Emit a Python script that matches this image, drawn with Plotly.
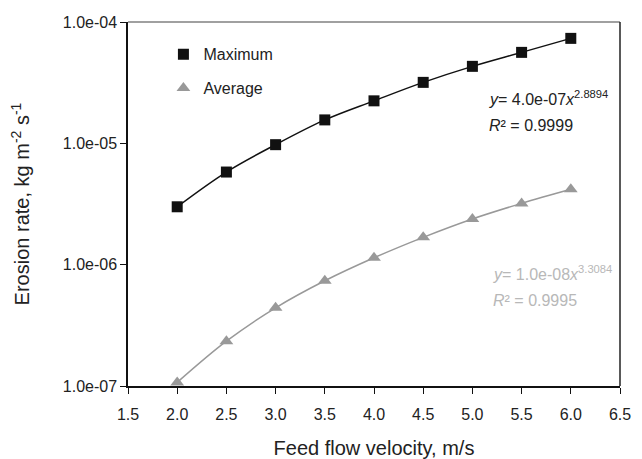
import plotly.graph_objects as go

velocity = [2.0, 2.5, 3.0, 3.5, 4.0, 4.5, 5.0, 5.5, 6.0]
maximum = [3.0e-6, 5.8e-6, 9.75e-6, 1.56e-5, 2.24e-5, 3.18e-5, 4.31e-5, 5.62e-5, 7.33e-5]
average = [1.07e-7, 2.34e-7, 4.41e-7, 7.37e-7, 1.14e-6, 1.68e-6, 2.38e-6, 3.2e-6, 4.18e-6]

y_tickvals = [1e-7, 1e-6, 1e-5, 1e-4]
y_ticktext = ["1.0e-07", "1.0e-06", "1.0e-05", "1.0e-04"]
x_tickvals = [1.5, 2.0, 2.5, 3.0, 3.5, 4.0, 4.5, 5.0, 5.5, 6.0, 6.5]
x_ticktext = ["1.5", "2.0", "2.5", "3.0", "3.5", "4.0", "4.5", "5.0", "5.5", "6.0", "6.5"]

BLACK = "#111111"
GRAY = "#999999"
FONT = "Liberation Sans, Arial, sans-serif"

fig = go.Figure()
fig.add_trace(go.Scatter(x=velocity, y=maximum, mode="lines", line=dict(color=BLACK, width=1.5, shape="spline"),
                         showlegend=False, hoverinfo="skip"))
fig.add_trace(go.Scatter(x=velocity, y=average, mode="lines", line=dict(color=GRAY, width=1.5, shape="spline"),
                         showlegend=False, hoverinfo="skip"))
fig.add_trace(go.Scatter(x=velocity, y=maximum, mode="markers", name="Maximum", legendgroup="a",
                         marker=dict(symbol="square", size=11, color=BLACK)))
fig.add_trace(go.Scatter(x=velocity, y=average, mode="markers", name="Average", legendgroup="b",
                         marker=dict(symbol="triangle-up", size=12, color=GRAY)))

fig.update_layout(
    width=634, height=451,
    margin=dict(l=120, r=22, t=14, b=73, autoexpand=False),
    paper_bgcolor="white", plot_bgcolor="white",
    font=dict(family=FONT, size=16, color="#222222"),
    legend=dict(x=0.072, y=0.958, xanchor="left", yanchor="top", bgcolor="rgba(0,0,0,0)",
                font=dict(size=16), tracegroupgap=10, traceorder="grouped"),
    xaxis=dict(range=[1.5, 6.5], tickvals=x_tickvals, ticktext=x_ticktext, automargin=False,
               showgrid=False, zeroline=False, showline=True, linecolor="#111111", linewidth=1.5,
               ticks="outside", ticklen=6, tickcolor="#111111", ticklabelstandoff=7,
               title=dict(text="Feed flow velocity, m/s", font=dict(size=20), standoff=20)),
    yaxis=dict(type="log", range=[-7, -4], tickvals=y_tickvals, ticktext=y_ticktext, automargin=False,
               showgrid=False, zeroline=False, showline=True, linecolor="#111111", linewidth=1.5,
               ticks="outside", ticklen=6, tickcolor="#111111", ticklabelstandoff=0,
               title=dict(text="Erosion rate, kg m<sup>-2</sup> s<sup>-1</sup>", font=dict(size=20), standoff=29)),
    shapes=[
        dict(type="line", xref="paper", yref="paper", x0=0, x1=1, y0=1, y1=1, line=dict(color="#808080", width=1.5)),
        dict(type="line", xref="paper", yref="paper", x0=1, x1=1, y0=0, y1=1, line=dict(color="#222222", width=1.5)),
    ],
    annotations=[
        dict(xref="paper", yref="paper", x=0.73, y=0.79, xanchor="left", yanchor="middle", showarrow=False,
             text="<i>y</i>= 4.0e-07<i>x</i><sup>2.8894</sup>", font=dict(size=16, color="#222222")),
        dict(xref="paper", yref="paper", x=0.73, y=0.715, xanchor="left", yanchor="middle", showarrow=False,
             text="<i>R</i>² = 0.9999", font=dict(size=16, color="#222222")),
        dict(xref="paper", yref="paper", x=0.738, y=0.31, xanchor="left", yanchor="middle", showarrow=False,
             text="<i>y</i>= 1.0e-08<i>x</i><sup>3.3084</sup>", font=dict(size=16, color="#b8b8b8")),
        dict(xref="paper", yref="paper", x=0.738, y=0.235, xanchor="left", yanchor="middle", showarrow=False,
             text="<i>R</i>² = 0.9995", font=dict(size=16, color="#b8b8b8")),
    ],
)

fig.write_html("out.html")
